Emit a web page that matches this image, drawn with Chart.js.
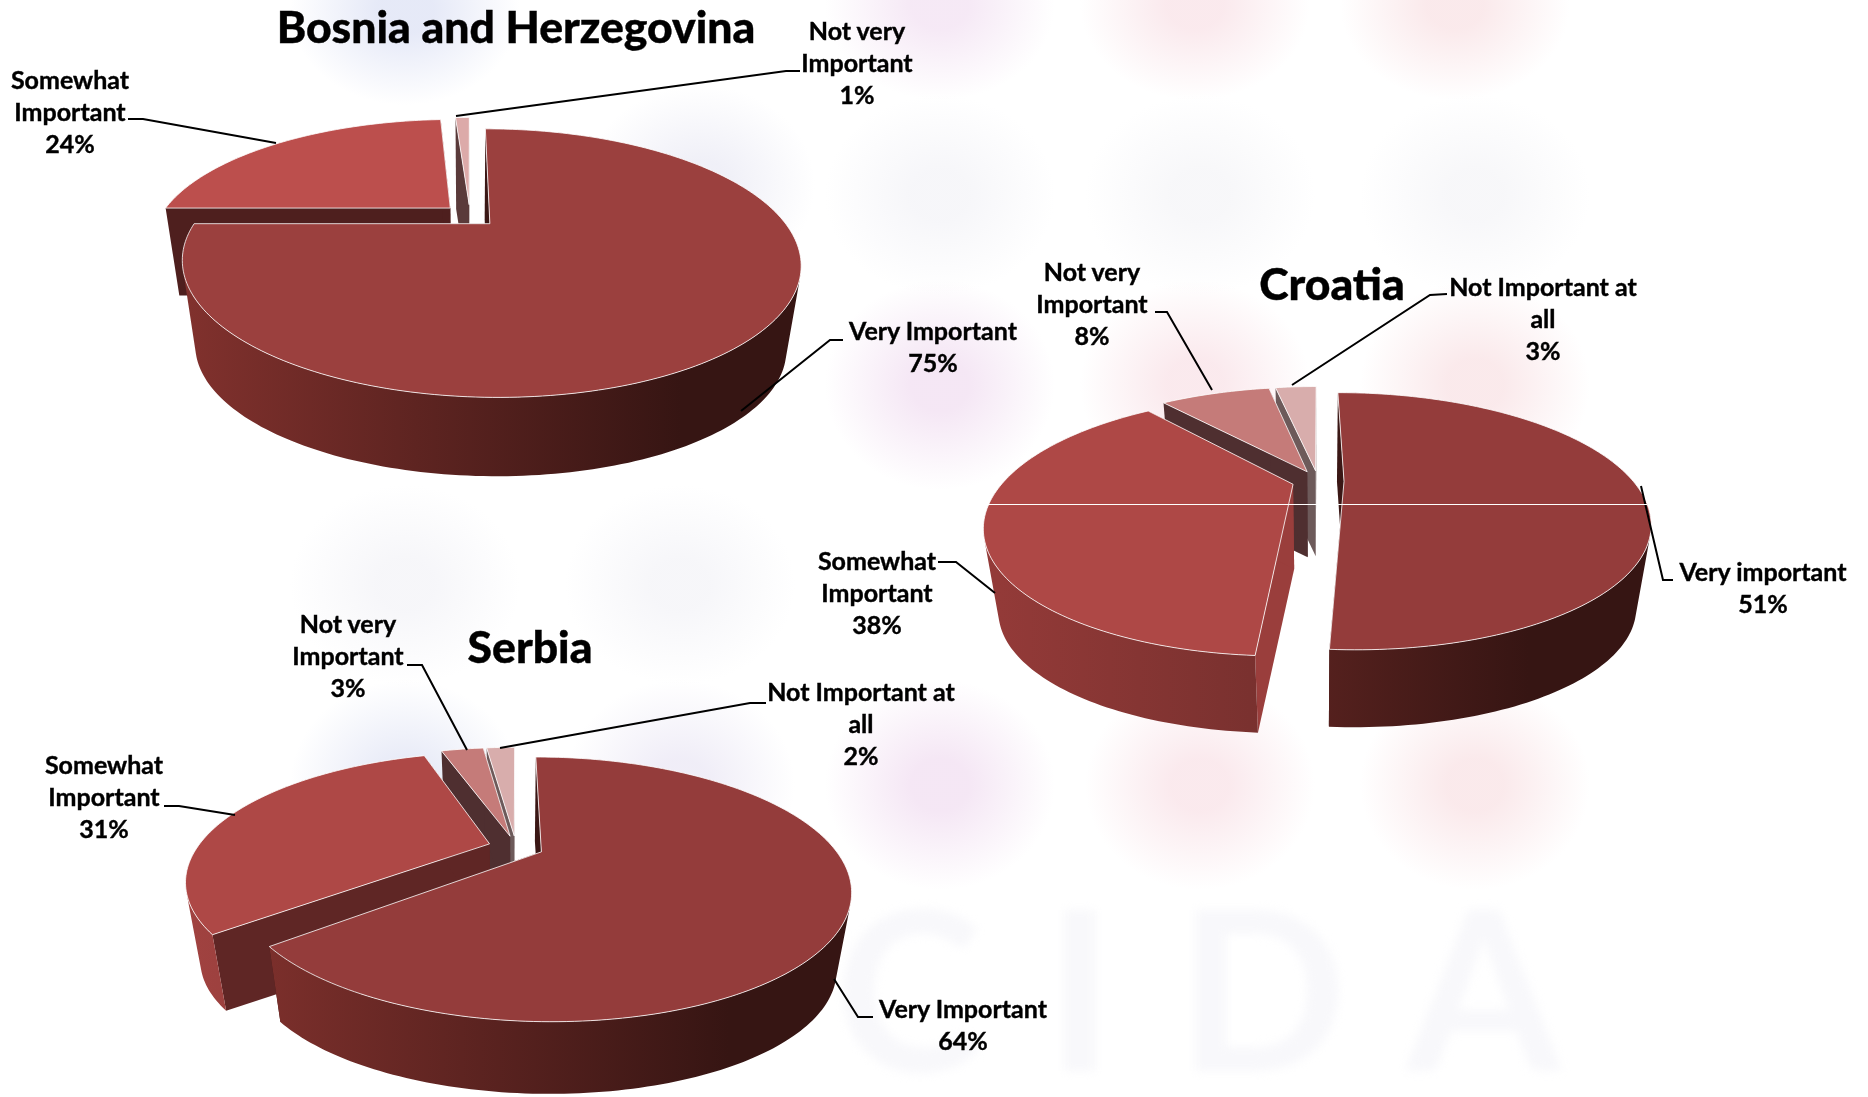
<!DOCTYPE html>
<html>
<head>
<meta charset="utf-8">
<script src="https://cdn.jsdelivr.net/npm/chart.js@4.4.1/dist/chart.umd.min.js"></script>
<style>
html, body { margin: 0; padding: 0; }
body {
    width: 1868px; height: 1097px; overflow: hidden; position: relative;
    background-color: #fff;
    background-image:
        radial-gradient(ellipse 115px 95px at 405px 10px, rgba(205,212,240,.5) 25%, transparent),
        radial-gradient(ellipse 115px 95px at 940px 5px, rgba(238,215,238,.55) 25%, transparent),
        radial-gradient(ellipse 115px 95px at 1195px 5px, rgba(248,222,228,.65) 25%, transparent),
        radial-gradient(ellipse 115px 95px at 1455px 5px, rgba(248,222,225,.65) 25%, transparent),
        radial-gradient(ellipse 115px 100px at 700px 185px, rgba(225,225,240,.5) 25%, transparent),
        radial-gradient(ellipse 115px 100px at 940px 195px, rgba(238,238,244,.5) 25%, transparent),
        radial-gradient(ellipse 115px 100px at 1200px 195px, rgba(240,240,244,.5) 25%, transparent),
        radial-gradient(ellipse 115px 100px at 1475px 195px, rgba(240,240,244,.5) 25%, transparent),
        radial-gradient(ellipse 115px 105px at 940px 385px, rgba(238,215,238,.6) 25%, transparent),
        radial-gradient(ellipse 115px 105px at 1195px 385px, rgba(248,222,228,.65) 25%, transparent),
        radial-gradient(ellipse 115px 105px at 1475px 385px, rgba(248,222,225,.65) 25%, transparent),
        radial-gradient(ellipse 115px 100px at 405px 585px, rgba(238,238,244,.5) 25%, transparent),
        radial-gradient(ellipse 115px 100px at 680px 585px, rgba(238,238,244,.5) 25%, transparent),
        radial-gradient(ellipse 115px 105px at 405px 785px, rgba(210,216,240,.5) 25%, transparent),
        radial-gradient(ellipse 115px 105px at 680px 785px, rgba(225,220,240,.5) 25%, transparent),
        radial-gradient(ellipse 115px 105px at 940px 785px, rgba(238,215,238,.6) 25%, transparent),
        radial-gradient(ellipse 115px 105px at 1200px 785px, rgba(248,222,228,.65) 25%, transparent),
        radial-gradient(ellipse 115px 105px at 1475px 785px, rgba(248,222,225,.65) 25%, transparent);
}
canvas { position: absolute; left: 0; top: 0; }
.label, .title {
    position: absolute; transform: translate(-50%, -50%); margin-top: -1px;
    text-align: center; white-space: pre; color: #000; font-family: Lato, sans-serif; font-weight: 700;
    -webkit-text-stroke: 0.4px #000;
}
.label { font-size: 25px; line-height: 32px; }
.title { font-size: 44.5px; line-height: 50px; font-weight: 900; }
#seam { position: absolute; left: 986px; top: 504px; width: 661px; height: 1px; background: #fff; }
#watermark {
    position: absolute; left: 835px; top: 852px; font: 700 222px Lato, sans-serif; letter-spacing: 65px;
    color: #f8f8fb; filter: blur(5px); white-space: pre;
}
</style>
</head>
<body>
<div id="watermark" aria-hidden="true">CIDA</div>
<canvas id="bosniaChart" width="1868" height="1097"></canvas>
<canvas id="croatiaChart" width="1868" height="1097"></canvas>
<canvas id="serbiaChart" width="1868" height="1097"></canvas>
<div id="seam"></div>
<script>
// values
const bosniaLabels = ['Very Important', 'Somewhat\nImportant', 'Not very\nImportant'];
const bosniaValues = [75, 24, 1];

const croatiaLabels = ['Very important', 'Somewhat\nImportant', 'Not very\nImportant', 'Not Important at\nall'];
const croatiaValues = [51, 38, 8, 3];

const serbiaLabels = ['Very Important', 'Somewhat\nImportant', 'Not very\nImportant', 'Not Important at\nall'];
const serbiaValues = [64, 31, 3, 2];

const PIE_RADIUS = 400;

// perspective view of the flat arc that Chart.js laid out
function project(view, u, v, z) {
    const w = 1 - view.tilt * v;
    const s = 1 - 0.045 * z;
    return [view.x + s * view.rx * u / w, view.y + view.depth * z + s * view.ry * v / w];
}

function tracePoints(ctx, pts) {
    ctx.beginPath();
    pts.forEach((p, i) => i ? ctx.lineTo(p[0], p[1]) : ctx.moveTo(p[0], p[1]));
    ctx.closePath();
}

function quadArea(q) {
    let sum = 0;
    q.forEach((p, i) => {
        const n = q[(i + 1) % q.length];
        sum += p[0] * n[1] - n[0] * p[1];
    });
    return sum;
}

function drawSlice(ctx, view, arc, i) {
    const p = arc.getProps(['startAngle', 'endAngle', 'outerRadius']);
    const mid = (p.startAngle + p.endAngle) / 2;
    const off = arc.options.offset / p.outerRadius;
    const ou = Math.cos(mid) * off, ov = Math.sin(mid) * off;
    const steps = Math.max(2, Math.ceil((p.endAngle - p.startAngle) / 0.02));
    const rim = [];
    for (let k = 0; k <= steps; k++) {
        const a = p.startAngle + (p.endAngle - p.startAngle) * k / steps;
        rim.push([ou + Math.cos(a), ov + Math.sin(a)]);
    }
    const top = rim.map(q => project(view, q[0], q[1], 0));
    const bottom = rim.map(q => project(view, q[0], q[1], 1));
    const apexTop = project(view, ou, ov, 0);
    const apexBottom = project(view, ou, ov, 1);

    // cut faces first, then the curved wall, then the lid
    ctx.fillStyle = view.cut[i];
    tracePoints(ctx, [apexTop, top[0], bottom[0], apexBottom]);
    ctx.fill();
    tracePoints(ctx, [apexTop, top[steps], bottom[steps], apexBottom]);
    ctx.fill();

    const grad = ctx.createLinearGradient(view.x - view.rx * 1.1, 0, view.x + view.rx * 1.05, 0);
    grad.addColorStop(0, view.wall[i][0]);
    grad.addColorStop(0.85, view.wall[i][1]);
    grad.addColorStop(1, view.wall[i][1]);
    ctx.fillStyle = grad;
    ctx.beginPath();
    // only the quads that face the viewer
    for (let k = 0; k < steps; k++) {
        const q = [top[k], top[k + 1], bottom[k + 1], bottom[k]];
        if (quadArea(q) > 0) continue;
        q.forEach((pt, n) => n ? ctx.lineTo(pt[0], pt[1]) : ctx.moveTo(pt[0], pt[1]));
        ctx.closePath();
    }
    ctx.fill();

    tracePoints(ctx, [apexTop].concat(top));
    ctx.fillStyle = arc.options.backgroundColor;
    ctx.fill();
    ctx.strokeStyle = 'rgba(255,255,255,0.8)';
    ctx.lineWidth = 1;
    ctx.stroke();
}

const pie3d = {
    id: 'pie3d',
    beforeDatasetsDraw(chart, args, opts) {
        const ctx = chart.ctx;
        const arcs = chart.getDatasetMeta(0).data;
        // far slices first
        const order = arcs.map((arc, i) => i).sort((a, b) => {
            const m = n => Math.sin((arcs[n].startAngle + arcs[n].endAngle) / 2);
            return m(a) - m(b);
        });
        ctx.save();
        order.forEach(i => drawSlice(ctx, opts, arcs[i], i));
        ctx.restore();
        return false;
    },
    afterDraw(chart, args, opts) {
        const ctx = chart.ctx;
        ctx.save();
        ctx.strokeStyle = '#000';
        ctx.lineWidth = 2;
        opts.leaders.forEach(line => {
            ctx.beginPath();
            line.forEach((p, i) => i ? ctx.lineTo(p[0], p[1]) : ctx.moveTo(p[0], p[1]));
            ctx.stroke();
        });
        ctx.restore();
    }
};

function addText(cls, text, x, y) {
    const el = document.createElement('div');
    el.className = cls;
    el.textContent = text;
    el.style.left = x + 'px';
    el.style.top = y + 'px';
    document.body.appendChild(el);
}

function createPie(canvasId, labels, values, cfg) {
    new Chart(document.getElementById(canvasId).getContext('2d'), {
        type: 'pie',
        data: {
            labels: labels,
            datasets: [{
                data: values,
                backgroundColor: cfg.colors,
                borderWidth: 0,
                offset: cfg.explode
            }]
        },
        options: {
            responsive: false,
            animation: false,
            events: [],
            radius: PIE_RADIUS,
            plugins: {
                legend: { display: false },
                tooltip: { enabled: false },
                pie3d: Object.assign({ leaders: cfg.leaders }, cfg.view)
            }
        },
        plugins: [pie3d]
    });
    addText('title', cfg.title[0], cfg.title[1], cfg.title[2]);
    labels.forEach((label, i) => {
        addText('label', label + '\n' + values[i] + '%', cfg.labelAt[i][0], cfg.labelAt[i][1]);
    });
}

createPie('bosniaChart', bosniaLabels, bosniaValues, {
    title: ['Bosnia and Herzegovina', 516, 27],
    colors: ['#9b403e', '#bc4f4d', '#dcaaa9'],
    explode: 38,
    view: {
        x: 470, y: 215.6, rx: 290, ry: 118, tilt: 0.288, depth: 87,
        cut: ['#3a1715', '#4e1f1e', '#5a3a3a'],
        wall: [['#86332f', '#361513'], ['#9a3e3c', '#5a2322'], ['#a86a68', '#6e4a4a']]
    },
    labelAt: [[933, 347], [70, 112], [857, 63]],
    leaders: [
        [[843, 340], [830, 340], [741, 411]],
        [[128, 119], [143, 119], [276, 143]],
        [[800, 71], [786, 71], [456, 116]]
    ]
});

createPie('croatiaChart', croatiaLabels, croatiaValues, {
    title: ['Croatia', 1332, 284],
    colors: ['#943c3b', '#ae4846', '#c57b79', '#d8adac'],
    explode: 36,
    view: {
        x: 1318, y: 481, rx: 289, ry: 116, tilt: 0.31, depth: 85,
        cut: ['#3a1715', '#9a3e3c', '#4f2f30', '#6d5a5a'],
        wall: [['#86332f', '#361513'], ['#933a38', '#5e2725'], ['#a86a68', '#6e4a4a'], ['#b88e8e', '#7e6a6a']]
    },
    labelAt: [[1763, 588], [877, 593], [1092, 304], [1543, 319]],
    leaders: [
        [[1673, 580], [1663, 580], [1641, 486]],
        [[938, 562], [956, 562], [995, 593]],
        [[1155, 312], [1167, 312], [1212, 390]],
        [[1447, 294], [1430, 295], [1292, 385]]
    ]
});

createPie('serbiaChart', serbiaLabels, serbiaValues, {
    title: ['Serbia', 530, 647],
    colors: ['#943c3b', '#ae4846', '#c57b79', '#d8adac'],
    explode: 38,
    view: {
        x: 516, y: 847, rx: 292, ry: 119, tilt: 0.28, depth: 80,
        cut: ['#3a1715', '#5f2625', '#4f2f30', '#6d5a5a'],
        wall: [['#86332f', '#361513'], ['#a04240', '#6a2a28'], ['#a86a68', '#6e4a4a'], ['#b88e8e', '#7e6a6a']]
    },
    labelAt: [[963, 1025], [104, 797], [348, 656], [861, 724]],
    leaders: [
        [[873, 1017], [858, 1017], [834, 979]],
        [[164, 806], [179, 806], [235, 815]],
        [[407, 665], [422, 665], [467, 750]],
        [[766, 703], [750, 703], [500, 748]]
    ]
});
</script>
</body>
</html>
